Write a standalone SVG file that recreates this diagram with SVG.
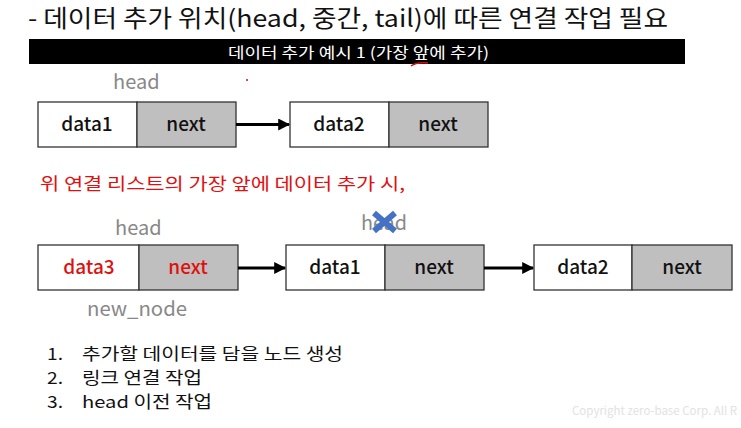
<svg xmlns="http://www.w3.org/2000/svg" width="741" height="428" viewBox="0 0 741 428">
  <style>
    text { font-family: "Noto Sans CJK KR", "Noto Sans", sans-serif; }
    .cell { stroke: #333; stroke-width: 1.3; }
    .data { fill: #ffffff; }
    .ptr { fill: #bfbfbf; }
    .lbl { font-size: 19px; font-weight: 500; fill: #111; text-anchor: middle; }
    .red { fill: #e01010; }
    .gray { font-size: 20px; fill: #888; }
    .link { stroke: #000; stroke-width: 3; fill: none; marker-end: url(#arrow); }
    .item { font-size: 16.5px; fill: #111; }
  </style>
  <defs>
    <marker id="arrow" viewBox="0 0 10 10" refX="9" refY="5" markerWidth="4" markerHeight="4" orient="auto" markerUnits="strokeWidth">
      <path d="M0,0 L10,5 L0,10 z" fill="#000"/>
    </marker>
  </defs>

  <rect width="741" height="428" fill="#ffffff"/>

  <!-- heading -->
  <text x="28" y="27" font-size="24" fill="#111" textLength="640" lengthAdjust="spacingAndGlyphs">- 데이터 추가 위치(head, 중간, tail)에 따른 연결 작업 필요</text>

  <!-- section bar -->
  <rect x="29" y="39" width="656" height="25" fill="#000"/>
  <text x="228" y="58" font-size="15" fill="#fff" textLength="261" lengthAdjust="spacingAndGlyphs">데이터 추가 예시 1 (가장 앞에 추가)</text>
  <path d="M411,66 Q416,62 428,63" stroke="#d01010" stroke-width="1.6" fill="none"/>
  <circle cx="247" cy="80" r="1" fill="#d01010"/>

  <!-- before: head pointer label -->
  <text class="gray" x="113" y="89">head</text>

  <g id="node-data1-top">
    <rect class="cell data" x="38" y="102" width="99" height="45"/>
    <rect class="cell ptr" x="137" y="102" width="99" height="45"/>
    <text class="lbl" x="87" y="131">data1</text>
    <text class="lbl" x="186" y="131">next</text>
  </g>
  <g id="node-data2-top">
    <rect class="cell data" x="290" y="102" width="99" height="45"/>
    <rect class="cell ptr" x="389" y="102" width="99" height="45"/>
    <text class="lbl" x="339" y="131">data2</text>
    <text class="lbl" x="438" y="131">next</text>
  </g>

  <!-- caption -->
  <text x="40" y="190" font-size="17" class="red" textLength="365" lengthAdjust="spacingAndGlyphs">위 연결 리스트의 가장 앞에 데이터  추가 시,</text>

  <!-- after: pointer labels -->
  <text class="gray" x="115" y="235">head</text>
  <text class="gray" x="361" y="230" textLength="46" lengthAdjust="spacingAndGlyphs">head</text>
  <g id="cross">
    <path d="M374,213 L395,231 M395,213 L374,231" stroke="#4472c4" stroke-width="6" stroke-linecap="butt"/>
  </g>
  <text class="gray" x="87" y="316" textLength="100" lengthAdjust="spacingAndGlyphs">new_node</text>

  <g id="node-data3">
    <rect class="cell data" x="38" y="245" width="101" height="45"/>
    <rect class="cell ptr" x="139" y="245" width="99" height="45"/>
    <text class="lbl red" x="89" y="274">data3</text>
    <text class="lbl red" x="188" y="274">next</text>
  </g>
  <g id="node-data1">
    <rect class="cell data" x="286" y="245" width="99" height="45"/>
    <rect class="cell ptr" x="385" y="245" width="99" height="45"/>
    <text class="lbl" x="335" y="274">data1</text>
    <text class="lbl" x="434" y="274">next</text>
  </g>
  <g id="node-data2">
    <rect class="cell data" x="534" y="245" width="98" height="45"/>
    <rect class="cell ptr" x="632" y="245" width="100" height="45"/>
    <text class="lbl" x="583" y="274">data2</text>
    <text class="lbl" x="682" y="274">next</text>
  </g>

  <g id="connectors">
    <line class="link" x1="236" y1="124.5" x2="289" y2="124.5"/>
    <line class="link" x1="238" y1="268" x2="285" y2="268"/>
    <line class="link" x1="484" y1="268" x2="533" y2="268"/>
  </g>

  <!-- steps -->
  <text class="item" x="47" y="360" textLength="16" lengthAdjust="spacingAndGlyphs">1.</text>
  <text class="item" x="82" y="360" textLength="261" lengthAdjust="spacingAndGlyphs">추가할 데이터를 담을 노드 생성</text>
  <text class="item" x="47" y="384" textLength="16" lengthAdjust="spacingAndGlyphs">2.</text>
  <text class="item" x="82" y="384" textLength="120" lengthAdjust="spacingAndGlyphs">링크 연결 작업</text>
  <text class="item" x="47" y="408" textLength="16" lengthAdjust="spacingAndGlyphs">3.</text>
  <text class="item" x="82" y="408" textLength="130" lengthAdjust="spacingAndGlyphs">head 이전 작업</text>

  <text x="572" y="415" font-size="11.5" fill="#e2e2e2">Copyright zero-base Corp. All R</text>
</svg>
